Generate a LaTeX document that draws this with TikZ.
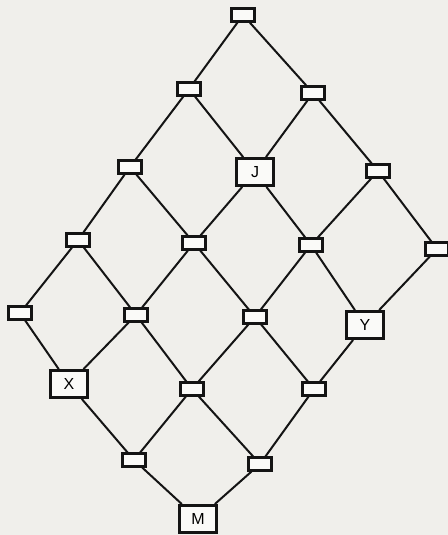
\documentclass[tikz,border=0pt]{standalone}
\usepackage{fontspec}
\setmainfont{Liberation Sans}
\definecolor{paper}{RGB}{240,239,235}
\definecolor{ink}{RGB}{20,20,20}
\definecolor{boxfill}{RGB}{250,250,248}
\begin{document}
\begin{tikzpicture}[x=0.75pt,y=-0.75pt,
  sbox/.style={draw=ink,fill=boxfill,line width=1.9pt,inner sep=0pt,minimum width=17pt,minimum height=9.5pt},
  lbox/.style={draw=ink,fill=boxfill,line width=1.9pt,inner sep=0pt,minimum width=27.5pt,minimum height=20.5pt,font=\fontsize{12}{13}\selectfont},
  edge/.style={draw=ink,line width=1.5pt}]
\fill[paper] (0,0) rectangle (448,535);
\useasboundingbox (0,0) rectangle (448,535);
% row 1
\node[sbox] (n00) at (243,15) {};
% row 2
\node[sbox] (n10) at (189,89) {};
\node[sbox] (n01) at (313,93) {};
% row 3
\node[sbox] (n20) at (130,167) {};
\node[lbox] (n11) at (255,172) {J};
\node[sbox] (n02) at (378,171) {};
% row 4
\node[sbox] (n30) at (78,240) {};
\node[sbox] (n21) at (194,243) {};
\node[sbox] (n12) at (311,245) {};
\node[sbox] (n03) at (437,249) {};
% row 5
\node[sbox] (n40) at (20,313) {};
\node[sbox] (n31) at (136,315) {};
\node[sbox] (n22) at (255,317) {};
\node[lbox] (n13) at (365,325) {Y};
% row 6
\node[lbox] (n41) at (69,384) {X};
\node[sbox] (n32) at (192,389) {};
\node[sbox] (n23) at (314,389) {};
% row 7
\node[sbox] (n42) at (134,460) {};
\node[sbox] (n33) at (260,464) {};
% row 8
\node[lbox] (n43) at (198,519) {M};
\foreach \a/\b/\c/\d in {0/0/1/0,0/0/0/1,
  1/0/2/0,1/0/1/1,0/1/1/1,0/1/0/2,
  2/0/3/0,2/0/2/1,1/1/2/1,1/1/1/2,0/2/1/2,0/2/0/3,
  3/0/4/0,3/0/3/1,2/1/3/1,2/1/2/2,1/2/2/2,1/2/1/3,0/3/1/3,
  4/0/4/1,3/1/4/1,3/1/3/2,2/2/3/2,2/2/2/3,1/3/2/3,
  4/1/4/2,3/2/4/2,3/2/3/3,2/3/3/3,
  4/2/4/3,3/3/4/3}
  \draw[edge] (n\a\b) -- (n\c\d);
\end{tikzpicture}
\end{document}
